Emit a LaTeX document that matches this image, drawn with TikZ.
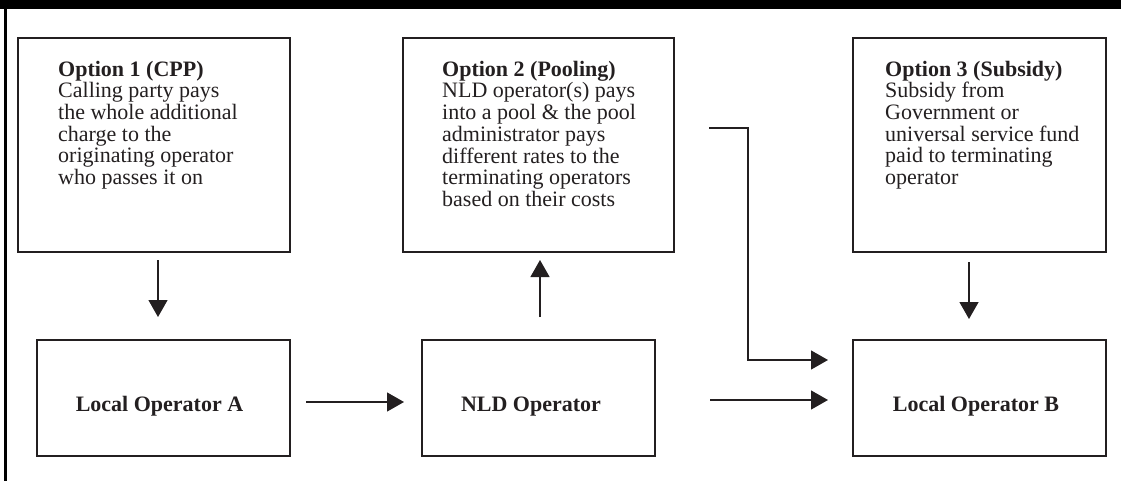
\documentclass[tikz,border=0pt]{standalone}
\usepackage{fontspec}
\setmainfont{Liberation Serif}
\usetikzlibrary{arrows.meta}
\definecolor{ink}{RGB}{35,31,32}
\begin{document}
\begin{tikzpicture}[x=1pt,y=-1pt,
  box/.style={draw=ink, line width=1.2pt, rectangle, inner sep=0pt},
  txt/.style={text=ink, inner sep=0pt, align=left, anchor=north west, font=\fontsize{22}{21.7}\selectfont},
  lbl/.style={text=ink, inner sep=0pt, anchor=base, font=\fontsize{22}{26}\selectfont\bfseries},
  arr/.style={draw=ink, line width=1.3pt, -{Triangle[length=17pt,width=19pt]}},
  conn/.style={draw=ink, line width=1.3pt}
]
\useasboundingbox (0,0) rectangle (1121,481);
\fill[black] (0,0) rectangle (1121,9);
\draw[black, line width=3pt] (5.5,9) -- (5.5,481);

% top boxes
\node[box, minimum width=272pt, minimum height=214pt] (opt1) at (154,145) {};
\node[box, minimum width=271pt, minimum height=214pt] (opt2) at (538.5,145) {};
\node[box, minimum width=253pt, minimum height=214pt] (opt3) at (979.5,145) {};

\node[txt] (t1) at (58,60) {\rule{0pt}{16pt}\textbf{Option 1 (CPP)}\\Calling party pays\\the whole additional\\charge to the\\originating operator\\who passes it on};
\node[txt] (t2) at (442,60) {\rule{0pt}{16pt}\textbf{Option 2 (Pooling)}\\NLD operator(s) pays\\into a pool \& the pool\\administrator pays\\different rates to the\\terminating operators\\based on their costs};
\node[txt] (t3) at (885,60) {\rule{0pt}{16pt}\textbf{Option 3 (Subsidy)}\\Subsidy from\\Government or\\universal service fund\\paid to terminating\\operator};

% bottom boxes
\node[box, minimum width=253pt, minimum height=116pt] (la) at (163.5,398) {};
\node[box, minimum width=233pt, minimum height=116pt] (nld) at (538.5,398) {};
\node[box, minimum width=253pt, minimum height=116pt] (lb) at (979.5,398) {};

\node[lbl] (tla) at (159.5,411) {Local Operator A};
\node[lbl] (tnld) at (531,411) {NLD Operator};
\node[lbl] (tlb) at (976,411) {Local Operator B};

% arrow end points
\coordinate (d1s) at (158,260);
\coordinate (d1e) at (158,317);
\coordinate (u2s) at (540,317);
\coordinate (u2e) at (540,260);
\coordinate (d3s) at (969,262);
\coordinate (d3e) at (969,319);
\coordinate (h1s) at (306,402);
\coordinate (h1e) at (404,402);
\coordinate (h2s) at (710,400);
\coordinate (h2e) at (828,400);
\coordinate (e0) at (709,128);
\coordinate (e1) at (748,128);
\coordinate (e2) at (748,360);
\coordinate (e3) at (828,360);

\draw[arr] (d1s) -- (d1e);
\draw[arr] (u2s) -- (u2e);
\draw[arr] (d3s) -- (d3e);
\draw[arr] (h1s) -- (h1e);
\draw[arr] (h2s) -- (h2e);
\draw[arr] (e0) -- (e1) -- (e2) -- (e3);
\end{tikzpicture}
\end{document}
